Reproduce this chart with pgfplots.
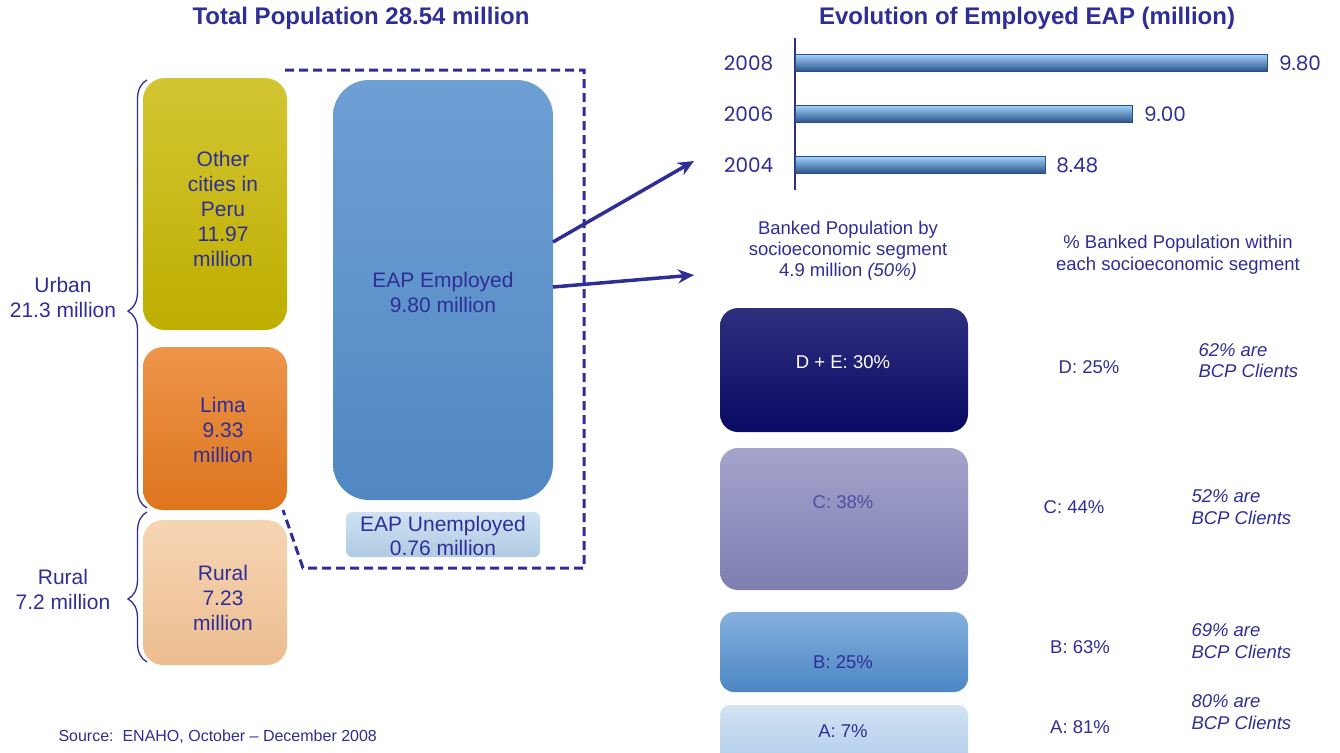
\documentclass[border=0pt]{standalone}
\usepackage{fontspec}
\setmainfont{Liberation Sans}
\newfontfamily\gothic{Poppins}
\usepackage{pgfplots}
\pgfplotsset{compat=1.18}
\usetikzlibrary{decorations.pathreplacing,arrows.meta}
\definecolor{txt}{RGB}{46,46,150}
\definecolor{gold}{RGB}{200,183,0}
\definecolor{orng}{RGB}{233,123,30}
\definecolor{peach}{RGB}{243,195,148}
\definecolor{eapblue}{RGB}{85,143,205}
\definecolor{eaplight}{RGB}{185,213,238}
\definecolor{navy}{RGB}{10,10,105}
\definecolor{lav}{RGB}{133,133,187}
\definecolor{bblue}{RGB}{80,142,206}
\definecolor{alight}{RGB}{168,200,232}
\definecolor{barlight}{RGB}{160,210,250}
\definecolor{barmid}{RGB}{90,155,220}
\definecolor{bardark}{RGB}{40,80,135}
\newcommand{\fs}[2]{\fontsize{#1}{#2}\selectfont}
\begin{document}
\begin{tikzpicture}
\useasboundingbox (0,0) rectangle (1340pt,752pt);
\begin{axis}[at={(0pt,0pt)},anchor=south west,scale only axis,
  width=1340pt,height=752pt,xmin=0,xmax=1340,ymin=0,ymax=752,
  y dir=reverse,hide axis,clip=false]
% ---- population blocks (x0,x1,y0,y1 in px)
\addplot[draw=none,top color=gold!80!white,middle color=gold,bottom color=gold!95!black,rounded corners=22pt]
  coordinates {(215,78)(287,78)(287,330)(143,330)(143,78)} -- cycle;
\addplot[draw=none,top color=orng!80!white,middle color=orng,bottom color=orng!95!black,rounded corners=20pt]
  coordinates {(215,347)(287,347)(287,510)(143,510)(143,347)} -- cycle;
\addplot[draw=none,top color=peach!70!white,middle color=peach,bottom color=peach!97!black,rounded corners=20pt]
  coordinates {(215,520)(287,520)(287,665)(143,665)(143,520)} -- cycle;
\addplot[draw=none,top color=eapblue!85!white,middle color=eapblue,bottom color=eapblue!95!black,rounded corners=36pt]
  coordinates {(443,80)(553,80)(553,500)(333,500)(333,80)} -- cycle;
\addplot[draw=none,top color=eaplight!70!white,middle color=eaplight,bottom color=eaplight!95!black,rounded corners=6pt]
  coordinates {(443,512)(540,512)(540,557)(346,557)(346,512)} -- cycle;
% ---- banked segments
\addplot[draw=none,top color=navy!85!white,middle color=navy,bottom color=navy!95!black,rounded corners=18pt]
  coordinates {(844,308)(968,308)(968,432)(720,432)(720,308)} -- cycle;
\addplot[draw=none,top color=lav!75!white,middle color=lav,bottom color=lav!95!black,rounded corners=18pt]
  coordinates {(844,448)(968,448)(968,590)(720,590)(720,448)} -- cycle;
\addplot[draw=none,top color=bblue!70!white,middle color=bblue,bottom color=bblue!95!black,rounded corners=14pt]
  coordinates {(844,612)(968,612)(968,692)(720,692)(720,612)} -- cycle;
\addplot[draw=none,top color=alight!50!white,middle color=alight,bottom color=alight,rounded corners=10pt]
  coordinates {(844,705)(968,705)(968,775)(720,775)(720,705)} -- cycle;
% ---- dashed frame and arrows
\addplot[txt,line width=3pt,dash pattern=on 9pt off 5pt]
  coordinates {(285,70)(584,70)(584,568)(303,568)(283,510)};
\addplot[txt,line width=3.5pt,-{Stealth[length=16pt,width=14pt]}]
  coordinates {(553,242)(694,161)};
\addplot[txt,line width=3.5pt,-{Stealth[length=16pt,width=14pt]}]
  coordinates {(553,287)(694,275)};
% ---- braces
\draw[txt,line width=1.3pt,decorate,decoration={brace,amplitude=19pt,aspect=0.46}]
  (axis cs:147,508) -- (axis cs:147,80);
\draw[txt,line width=1.3pt,decorate,decoration={brace,amplitude=19pt,aspect=0.42}]
  (axis cs:147,662) -- (axis cs:147,512);
% ---- titles
\node[txt,font=\bfseries\fs{24}{28}] at (axis cs:361,18) {Total Population 28.54 million};
\node[txt,font=\bfseries\fs{24}{28}] at (axis cs:1027,18) {Evolution of Employed EAP (million)};
% ---- left texts
\node[txt,font=\fs{21}{25},align=center] at (axis cs:63,297.5) {Urban\\21.3 million};
\node[txt,font=\fs{21}{25},align=center] at (axis cs:63,589.5) {Rural\\7.2 million};
\node[txt,font=\fs{21}{25},align=center] at (axis cs:223,208.5) {Other\\cities in\\Peru\\11.97\\million};
\node[txt,font=\fs{21}{25},align=center] at (axis cs:223,430) {Lima\\9.33\\million};
\node[txt,font=\fs{21}{25},align=center] at (axis cs:223,598) {Rural\\7.23\\million};
\node[txt,font=\fs{21}{25},align=center] at (axis cs:443,292.5) {EAP Employed\\9.80 million};
\node[txt,font=\fs{21}{24},align=center] at (axis cs:443,536) {EAP Unemployed\\0.76 million};
\node[txt,font=\fs{16}{19},anchor=west] at (axis cs:55,737) {Source:\ \ ENAHO, October -- December 2008};
% ---- right texts
\node[txt,font=\fs{18.5}{21},align=center] at (axis cs:848,251) {Banked Population by\\socioeconomic segment\\4.9 million \textit{(50\%)}};
\node[txt,font=\fs{18.5}{22},align=center] at (axis cs:1178,255) {\% Banked Population within\\each socioeconomic segment};
\node[white,font=\fs{18.5}{22}] at (axis cs:843,362) {D + E: 30\%};
\node[txt!85!white,font=\fs{18.5}{22}] at (axis cs:843,502) {C: 38\%};
\node[txt,font=\fs{18.5}{22}] at (axis cs:843,662) {B: 25\%};
\node[txt,font=\fs{18.5}{22}] at (axis cs:843,731) {A: 7\%};
\node[txt,font=\fs{18.5}{22}] at (axis cs:1089,367) {D: 25\%};
\node[txt,font=\fs{18.5}{22}] at (axis cs:1074,507) {C: 44\%};
\node[txt,font=\fs{18.5}{22}] at (axis cs:1080,647) {B: 63\%};
\node[txt,font=\fs{18.5}{22}] at (axis cs:1080,727) {A: 81\%};
\node[txt,font=\itshape\fs{18.5}{21.5},align=left,anchor=west] at (axis cs:1195,360.5) {62\% are\\BCP Clients};
\node[txt,font=\itshape\fs{18.5}{21.5},align=left,anchor=west] at (axis cs:1188,507) {52\% are\\BCP Clients};
\node[txt,font=\itshape\fs{18.5}{21.5},align=left,anchor=west] at (axis cs:1188,641) {69\% are\\BCP Clients};
\node[txt,font=\itshape\fs{18.5}{21.5},align=left,anchor=west] at (axis cs:1188,712) {80\% are\\BCP Clients};
\end{axis}
% ---- Evolution of Employed EAP bar chart
\begin{axis}[at={(795pt,562pt)},anchor=south west,scale only axis,
  width=590.625pt,height=152pt,xmin=7,xmax=10.5,ymin=-0.49,ymax=2.49,
  axis x line=none,axis y line=left,axis line style={txt,line width=1.6pt,-},
  ytick={0,1,2},yticklabels={2004,2006,2008},ytick style={draw=none},
  yticklabel style={font=\gothic\fs{20}{24},text=txt,xshift=-14pt},
  xbar,bar width=17pt,bar shift=0pt,point meta=x,
  /pgf/number format/assume math mode=true,
  nodes near coords={\pgfmathprintnumber[fixed,fixed zerofill,precision=2]{\pgfplotspointmeta}},
  every node near coord/.append style={font=\gothic\fs{20}{24},text=txt,anchor=west,xshift=8pt}]
\addplot[draw=bardark,top color=barlight,middle color=barmid,bottom color=bardark] coordinates {(9.80,2)};
\addplot[draw=bardark,top color=barlight,middle color=barmid,bottom color=bardark] coordinates {(9.00,1)};
\addplot[draw=bardark,top color=barlight,middle color=barmid,bottom color=bardark] coordinates {(8.48,0)};
\end{axis}
\end{tikzpicture}
\end{document}
